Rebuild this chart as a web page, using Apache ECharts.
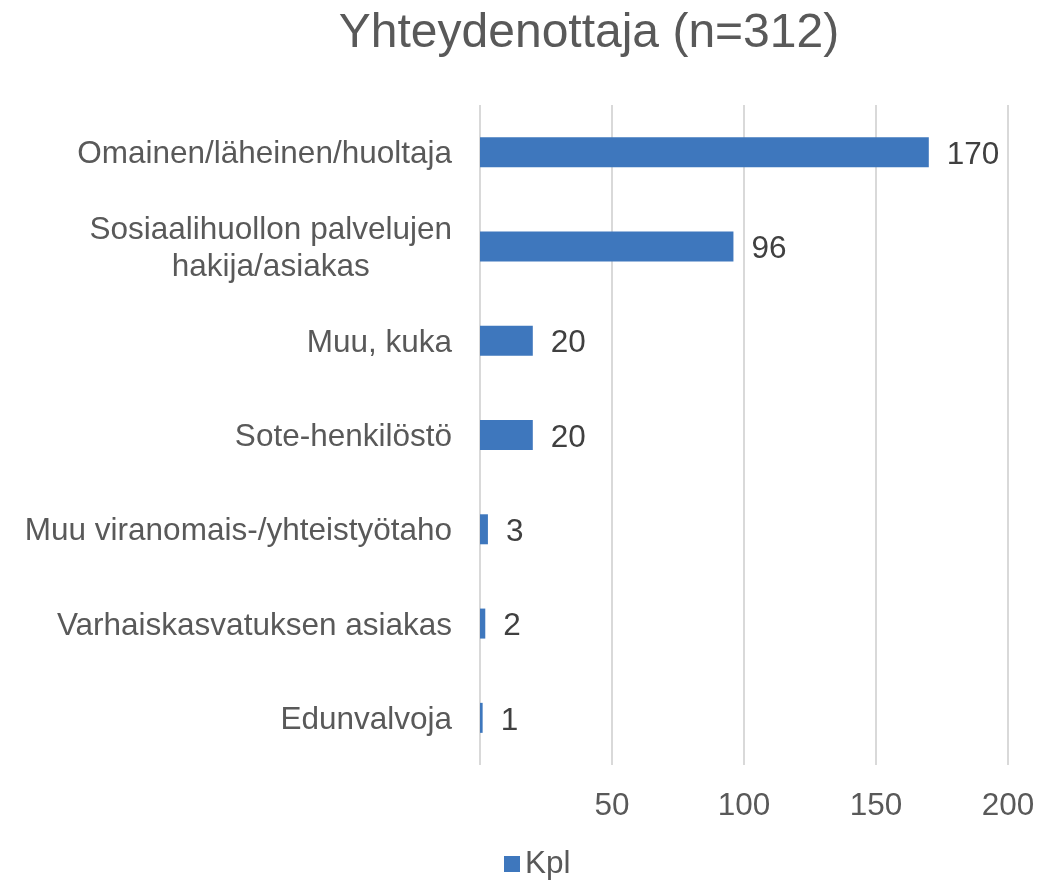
<!DOCTYPE html>
<html>
<head>
<meta charset="utf-8">
<script src="https://cdn.jsdelivr.net/npm/echarts@6/dist/echarts.min.js"></script>
<style>
  html, body { margin: 0; padding: 0; background: #fff; }
  #main { width: 1055px; height: 880px; }
</style>
</head>
<body>
<div id="main"></div>
<script>
var categories = [
  'Omainen/läheinen/huoltaja',
  'Sosiaalihuollon palvelujen\nhakija/asiakas',
  'Muu, kuka',
  'Sote-henkilöstö',
  'Muu viranomais-/yhteistyötaho',
  'Varhaiskasvatuksen asiakas',
  'Edunvalvoja'
];
var kpl = [170, 96, 20, 20, 3, 2, 1];
var tickValues = [0, 50, 100, 150, 200];

var myChart = echarts.init(document.getElementById('main'));
var font = 'Liberation Sans, Arial, sans-serif';
var fs = 31.5;

var option = {
  animation: false,
  title: {
    text: 'Yhteydenottaja (n=312)',
    left: 584,
    textAlign: 'center',
    top: 5,
    textStyle: {
      fontFamily: font,
      fontSize: 48,
      fontWeight: 'normal',
      color: '#595959'
    }
  },
  legend: {
    data: ['Kpl'],
    left: 504,
    top: 848,
    padding: 0,
    itemWidth: 16,
    itemHeight: 16,
    itemGap: 8,
    icon: 'rect',
    textStyle: {
      fontFamily: font,
      fontSize: fs,
      color: '#595959'
    }
  },
  grid: {
    left: 480,
    right: 47,
    top: 105,
    bottom: 115
  },
  xAxis: {
    type: 'value',
    min: tickValues[0],
    max: tickValues[tickValues.length - 1],
    interval: 50,
    axisLine: { show: false },
    axisTick: { show: false },
    splitLine: {
      show: true,
      lineStyle: { color: '#d9d9d9', width: 2 }
    },
    axisLabel: {
      margin: 25,
      fontFamily: font,
      fontSize: fs,
      color: '#595959',
      formatter: function (v) {
        return v === 0 ? '' : String(v);
      }
    }
  },
  yAxis: {
    type: 'category',
    inverse: true,
    data: categories,
    axisLine: { show: false },
    axisTick: { show: false },
    axisLabel: {
      margin: 28,
      padding: [5, 0, 0, 0],
      fontFamily: font,
      fontSize: fs,
      color: '#595959',
      lineHeight: 37,
      formatter: function (v) {
        return v.split('\n').map(function (s) { return '{c|' + s + '}'; }).join('\n');
      },
      rich: {
        c: {
          align: 'center',
          fontFamily: font,
          fontSize: fs,
          color: '#595959',
          lineHeight: 37
        }
      }
    }
  },
  series: [
    {
      name: 'Kpl',
      type: 'bar',
      data: kpl,
      barWidth: 30,
      itemStyle: { color: '#3e77bd' },
      label: {
        show: true,
        position: 'right',
        distance: 18,
        offset: [0, 3],
        fontFamily: font,
        fontSize: fs,
        color: '#404040'
      }
    }
  ]
};
myChart.setOption(option);
</script>
</body>
</html>
